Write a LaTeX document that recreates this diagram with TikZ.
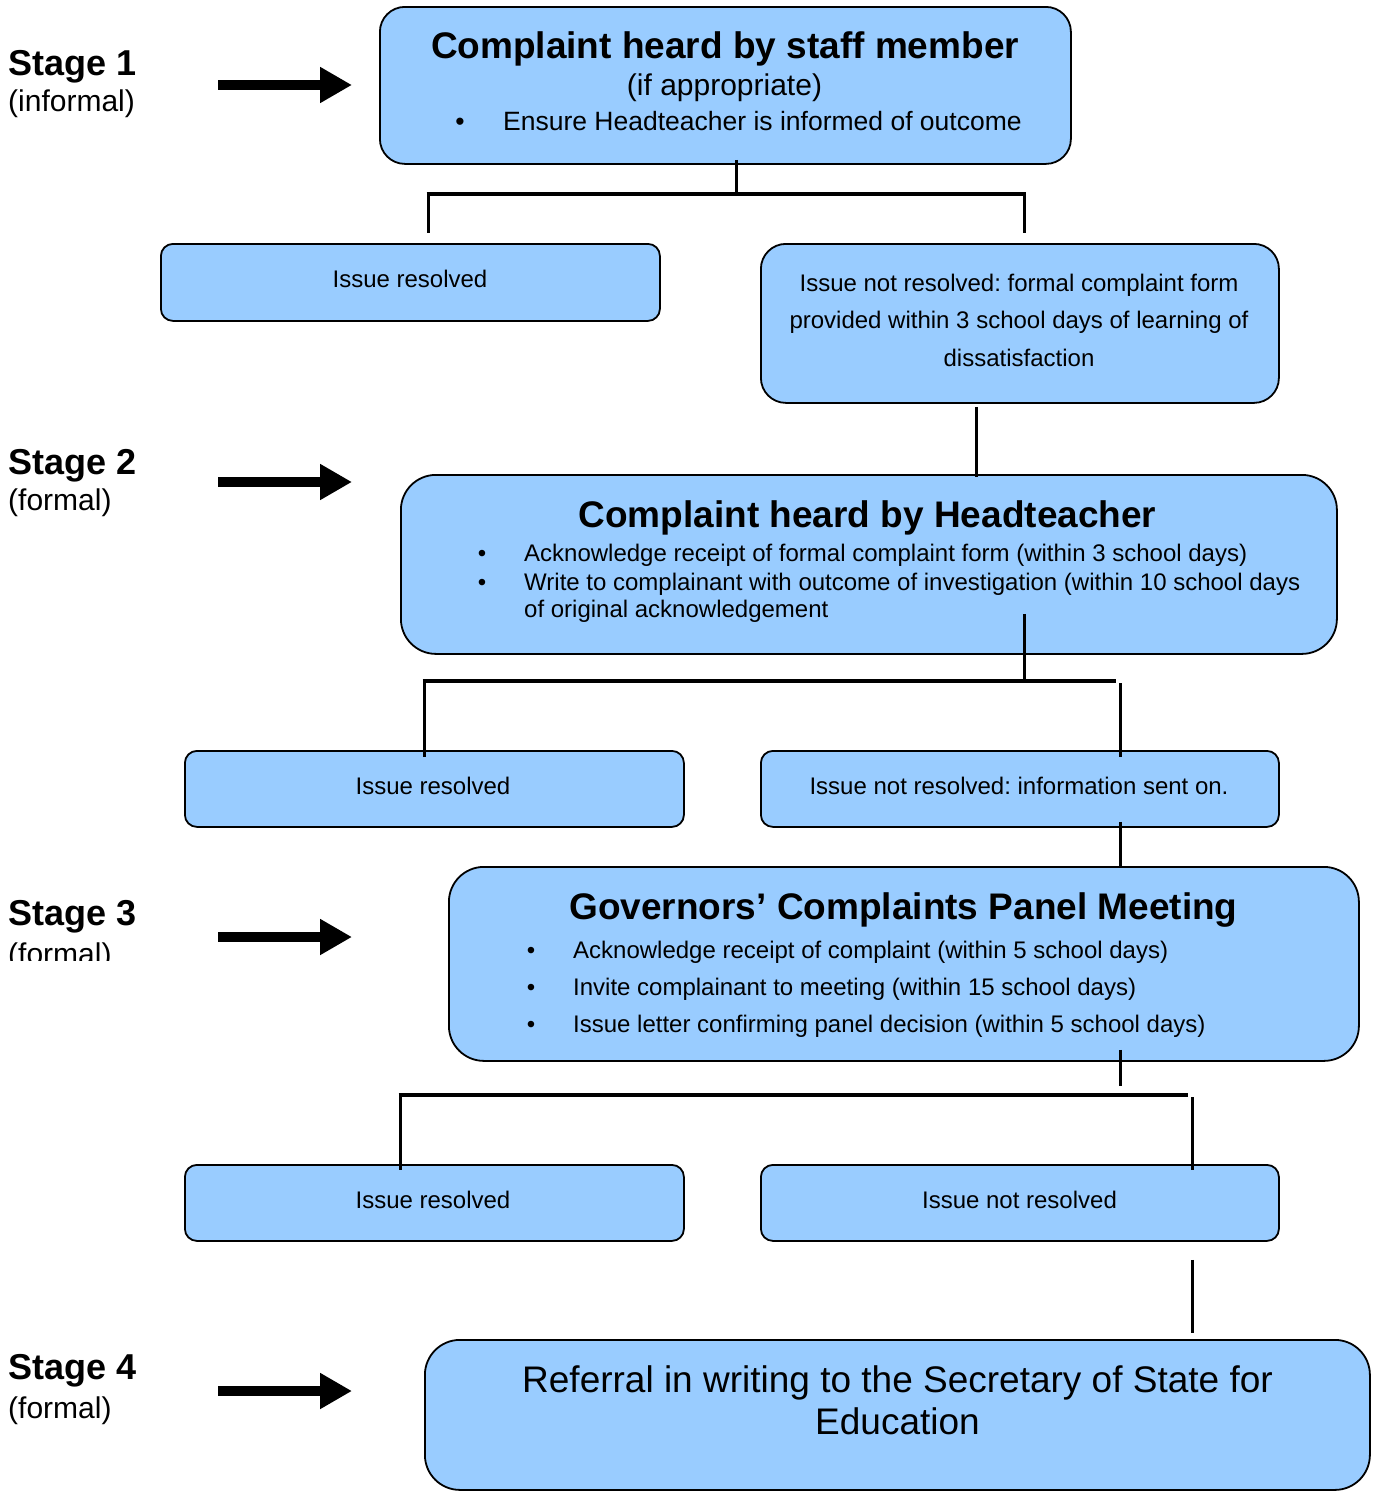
\documentclass[tikz,border=0pt]{standalone}
\usepackage{fontspec}
\setmainfont{Liberation Sans}
\usetikzlibrary{arrows.meta}
\definecolor{boxblue}{HTML}{99CCFF}
\frenchspacing
\begin{document}
\begin{tikzpicture}[x=1pt,y=-1pt,
  box/.style={draw=black, line width=1.8pt, fill=boxblue, rounded corners=#1, inner sep=0pt, anchor=north west},
  box/.default=25pt,
  conn/.style={line width=3pt, line cap=butt},
  hconn/.style={line width=3.6pt, line cap=butt},
  lbl/.style={anchor=base west, inner sep=0pt},
  ctext/.style={anchor=base, inner sep=0pt},
  stagearrow/.style={line width=10pt, -{Triangle[length=32pt,width=34pt]}},
  stagefont/.style={font=\fontsize{36}{40}\bfseries\selectfont},
  subfont/.style={font=\fontsize{30}{34}\selectfont},
  titlefont/.style={font=\fontsize{37}{42}\bfseries\selectfont},
  bodyfont/.style={font=\fontsize{24}{28}\selectfont}
]
\useasboundingbox (0,0) rectangle (1373,1491);

% ---------- stage labels and arrows ----------
\node[lbl, stagefont] (s1) at (8,75) {Stage 1};
\node[lbl, subfont] (s1b) at (8,111) {(informal)};
\node[lbl, stagefont] (s2) at (8,474) {Stage 2};
\node[lbl, subfont] (s2b) at (8,510) {(formal)};
\node[lbl, stagefont] (s3) at (8,925) {Stage 3};
\begin{scope}
  \clip (0,935) rectangle (200,960);
  \node[lbl, subfont] (s3b) at (8,964) {(formal)};
\end{scope}
\node[lbl, stagefont] (s4) at (8,1379) {Stage 4};
\node[lbl, subfont] (s4b) at (8,1418) {(formal)};

\coordinate (a1s) at (218,85);   \coordinate (a1e) at (352,85);
\coordinate (a2s) at (218,482);  \coordinate (a2e) at (352,482);
\coordinate (a3s) at (218,937);  \coordinate (a3e) at (352,937);
\coordinate (a4s) at (218,1391); \coordinate (a4e) at (352,1391);
\draw[stagearrow] (a1s) -- (a1e);
\draw[stagearrow] (a2s) -- (a2e);
\draw[stagearrow] (a3s) -- (a3e);
\draw[stagearrow] (a4s) -- (a4e);

% ---------- boxes ----------
\node[box=25pt, minimum width=691pt, minimum height=157pt] (b1) at (379,6) {};
\node[box=12pt, minimum width=499pt, minimum height=77pt] (r1) at (160,243) {};
\node[box=25pt, minimum width=518pt, minimum height=159pt] (nr1) at (760,243) {};
\node[box=35pt, minimum width=936pt, minimum height=179pt] (b2) at (400,474) {};
\node[box=12pt, minimum width=499pt, minimum height=76pt] (r2) at (184,750) {};
\node[box=12pt, minimum width=518pt, minimum height=76pt] (nr2) at (760,750) {};
\node[box=35pt, minimum width=910pt, minimum height=194pt] (b3) at (448,866) {};
\node[box=12pt, minimum width=499pt, minimum height=76pt] (r3) at (184,1164) {};
\node[box=12pt, minimum width=518pt, minimum height=76pt] (nr3) at (760,1164) {};
\node[box=35pt, minimum width=945pt, minimum height=150pt] (b4) at (424,1339) {};

% ---------- box texts ----------
\node[ctext, titlefont] (t1) at (725,58) {Complaint heard by staff member};
\node[ctext, subfont] (t1b) at (724.5,95) {(if appropriate)};
\node[ctext, font=\fontsize{26.5}{30}\selectfont] (t1c) at (460,130) {•};
\node[lbl, font=\fontsize{26.5}{30}\selectfont] (t1d) at (503,130) {Ensure Headteacher is informed of outcome};

\node[ctext, bodyfont] (tr1) at (410,287) {Issue resolved};
\node[ctext, bodyfont] (tnr1a) at (1019,291) {Issue not resolved: formal complaint form};
\node[ctext, bodyfont] (tnr1b) at (1019,328) {provided within 3 school days of learning of};
\node[ctext, bodyfont] (tnr1c) at (1019,366) {dissatisfaction};

\node[ctext, titlefont] (t2) at (867.5,527) {Complaint heard by Headteacher};
\node[ctext, bodyfont] (t2p1) at (482,561) {•};
\node[lbl, bodyfont] (t2l1) at (524,561) {Acknowledge receipt of formal complaint form (within 3 school days)};
\node[ctext, bodyfont] (t2p2) at (482,590) {•};
\node[lbl, bodyfont] (t2l2) at (524,590) {Write to complainant with outcome of investigation (within 10 school days};
\node[lbl, bodyfont] (t2l3) at (524,617) {of original acknowledgement};

\node[ctext, bodyfont] (tr2) at (433,794) {Issue resolved};
\node[ctext, bodyfont] (tnr2) at (1019,794) {Issue not resolved: information sent on.};

\node[ctext, titlefont] (t3) at (903.5,919) {Governors’ Complaints Panel Meeting};
\node[ctext, bodyfont] (t3p1) at (531,958) {•};
\node[lbl, bodyfont] (t3l1) at (573,958) {Acknowledge receipt of complaint (within 5 school days)};
\node[ctext, bodyfont] (t3p2) at (531,995) {•};
\node[lbl, bodyfont] (t3l2) at (573,995) {Invite complainant to meeting (within 15 school days)};
\node[ctext, bodyfont] (t3p3) at (531,1032) {•};
\node[lbl, bodyfont] (t3l3) at (573,1032) {Issue letter confirming panel decision (within 5 school days)};

\node[ctext, bodyfont] (tr3) at (433,1208) {Issue resolved};
\node[ctext, bodyfont] (tnr3) at (1019.5,1208) {Issue not resolved};

\node[ctext, font=\fontsize{37}{42}\selectfont] (t4a) at (897.5,1392) {Referral in writing to the Secretary of State for};
\node[ctext, font=\fontsize{37}{42}\selectfont] (t4b) at (897.5,1434) {Education};

% ---------- connectors ----------
% stage 1 branch
\coordinate (j1) at (736,194);
\coordinate (k1l) at (428,194);
\coordinate (k1r) at (1024,194);
\draw[conn] ([yshift=5pt]j1 |- b1.south) -- (j1);
\draw[hconn] ([xshift=-1.5pt]k1l) -- ([xshift=1.5pt]k1r);
\draw[conn] (k1l) -- ([yshift=10pt]k1l |- r1.north);
\draw[conn] (k1r) -- ([yshift=10pt]k1r |- nr1.north);
% to stage 2
\coordinate (j2) at (976,440);
\draw[conn] ([yshift=-3pt]j2 |- nr1.south) -- ([yshift=-3pt]j2 |- b2.north);
% stage 2 branch
\coordinate (j3) at (1024,681);
\coordinate (k3l) at (424,681);
\coordinate (k3r) at (1116,681);
\coordinate (k3d) at (1120,683);
\draw[conn] ([yshift=41pt]j3 |- b2.south) -- (j3);
\draw[hconn] ([xshift=-1.5pt]k3l) -- (k3r);
\draw[conn] (k3l) -- ([yshift=-7pt]k3l |- r2.north);
\draw[conn] (k3d) -- ([yshift=-7pt]k3d |- nr2.north);
% to stage 3
\coordinate (j4) at (1120,840);
\draw[conn] ([yshift=6pt]j4 |- nr2.south) -- (j4 |- b3.north);
% stage 3 branch
\coordinate (j5) at (1120,1086);
\coordinate (k5l) at (400,1095);
\coordinate (k5r) at (1188,1095);
\coordinate (k5d) at (1192,1097);
\draw[conn] ([yshift=12pt]j5 |- b3.south) -- (j5);
\draw[hconn] ([xshift=-1.5pt]k5l) -- (k5r);
\draw[conn] (k5l) -- ([yshift=-6pt]k5l |- r3.north);
\draw[conn] (k5d) -- ([yshift=-6pt]k5d |- nr3.north);
% to stage 4
\coordinate (j6) at (1192,1290);
\draw[conn] ([yshift=-18pt]j6 |- nr3.south) -- ([yshift=6pt]j6 |- b4.north);
\end{tikzpicture}
\end{document}
